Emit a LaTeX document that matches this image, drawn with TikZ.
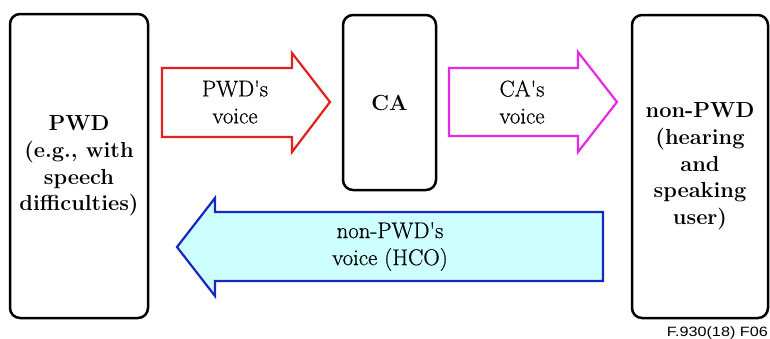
\documentclass[tikz,border=0pt]{standalone}
\usepackage{fontspec}
\newfontfamily\timesface{Latin Modern Roman}
\newfontfamily\voiceface{Latin Modern Roman}[FakeBold=0.6]
\newfontfamily\labelsans{Liberation Sans}
\definecolor{arrowred}{RGB}{228,32,30}
\definecolor{arrowmag}{RGB}{232,40,232}
\definecolor{arrowblue}{RGB}{22,40,190}
\definecolor{hcofill}{RGB}{206,255,255}
\begin{document}
\begin{tikzpicture}[x=1pt,y=-1pt,
  party/.style={draw=black, line width=2.5pt, rounded corners=10pt,
    align=center, inner sep=0pt, font=\timesface\fontsize{21.8}{26.7}\selectfont\bfseries},
  blockarrow/.style={line width=2.2pt, line join=miter},
  arrowtext/.style={align=center, inner sep=0pt, font=\voiceface\fontsize{22.8}{27}\selectfont}]
  \useasboundingbox (0,0) rectangle (770,338);

  % end points and relay
  \node[party, minimum width=138pt, minimum height=304pt] (pwd) at (79,166)
    {PWD\\(e.g., with\\speech\\difficulties)};
  \node[party, minimum width=93pt, minimum height=175pt] (ca) at (389.5,102.5) {CA};
  \node[party, minimum width=136pt, minimum height=303pt] (npwd) at (700,166.5)
    {non-PWD\\(hearing\\and\\speaking\\user)};

  % PWD -> CA
  \draw[blockarrow, draw=arrowred, fill=white]
    (162,68) -- (292,68) -- (292,53) -- (330,102) -- (292,152) -- (292,137) -- (162,137) -- cycle;
  \node[arrowtext] (pwdvoice) at (235,102) {PWD\textquotesingle s\\voice};

  % CA -> non-PWD
  \draw[blockarrow, draw=arrowmag, fill=white]
    (449,68) -- (578,68) -- (578,52) -- (617,102) -- (578,152) -- (578,136) -- (449,136) -- cycle;
  \node[arrowtext] (cavoice) at (522,102) {CA\textquotesingle s\\voice};

  % non-PWD -> PWD (hearing carry over)
  \draw[blockarrow, draw=arrowblue, fill=hcofill]
    (603,212) -- (215,212) -- (215,198) -- (177,247) -- (215,296) -- (215,281) -- (603,281) -- cycle;
  \node[arrowtext] (hco) at (390,246.5) {non-PWD\textquotesingle s\\voice (HCO)};

  % figure number
  \node[anchor=base east, inner sep=0pt, font=\labelsans\fontsize{13.5}{15}\selectfont]
    (fignum) at (768,336) {\scalebox{1.2}[1]{F.930(18) F06}};
\end{tikzpicture}
\end{document}
